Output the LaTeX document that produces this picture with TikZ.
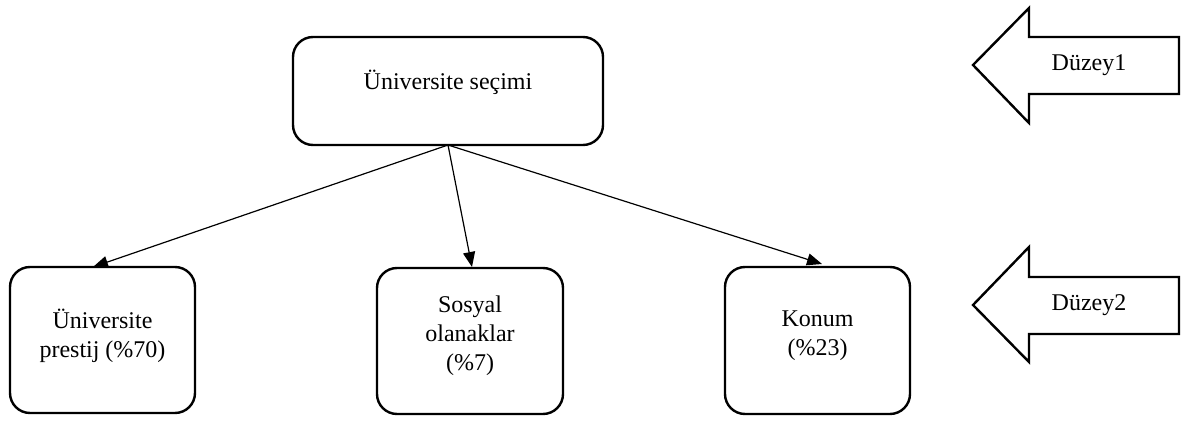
\documentclass[tikz,border=0pt]{standalone}
\usepackage{fontspec}
\setmainfont{Liberation Serif}
\usetikzlibrary{arrows.meta}
\begin{document}
\begin{tikzpicture}[x=1pt,y=-1pt,
  box/.style={draw,line width=2.4pt,rounded corners=20pt},
  lbl/.style={align=center,font=\fontsize{24}{29}\selectfont,inner sep=0pt},
  link/.style={line width=1.2pt,-{Triangle[length=15pt,width=12pt]}},
  blockarrow/.style={draw,line width=2.4pt,line join=miter}]
\useasboundingbox (0,0) rectangle (1182,427);

% top level
\draw[box] (293,37) rectangle (603,145);
\coordinate (top) at (448,145);
\node[lbl] (toptext) at (448,82) {Üniversite seçimi};

% second level boxes
\draw[box] (10,267) rectangle (195,413);
\coordinate (b1) at (93,267);
\node[lbl] (t1) at (102.5,336) {Üniversite\\prestij (\%70)};

\draw[box] (377,268) rectangle (563,414);
\coordinate (b2) at (472,267);
\node[lbl] (t2) at (470,336) {Sosyal\\olanaklar\\(\%7)};

\draw[box] (725,267) rectangle (910,414);
\coordinate (b3) at (822,264);
\node[lbl] (t3) at (817.5,336) {Konum\\(\%23)};

% connectors
\draw[link] (top) -- (b1);
\draw[link] (top) -- (b2);
\draw[link] (top) -- (b3);

% level markers
\draw[blockarrow] (973,65) -- (1029,8) -- (1029,37) -- (1179,37) -- (1179,94) -- (1029,94) -- (1029,123) -- cycle;
\node[lbl] (lv1) at (1089,65) {Düzey1};

\draw[blockarrow] (973,305) -- (1029,247) -- (1029,277) -- (1179,277) -- (1179,334) -- (1029,334) -- (1029,362) -- cycle;
\node[lbl] (lv2) at (1089,305) {Düzey2};
\end{tikzpicture}
\end{document}
